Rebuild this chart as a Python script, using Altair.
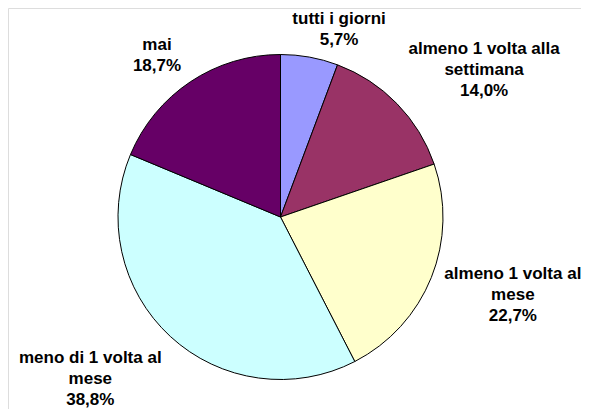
import math
import altair as alt
import pandas as pd

# data
categories = ["tutti i giorni", "almeno 1 volta alla settimana", "almeno 1 volta al mese",
              "meno di 1 volta al mese", "mai"]
label_lines = [["tutti i giorni"], ["almeno 1 volta alla", "settimana"], ["almeno 1 volta al", "mese"],
               ["meno di 1 volta al", "mese"], ["mai"]]
values = [5.7, 14.0, 22.7, 38.8, 18.7]
colors = ["#9999FF", "#993366", "#FFFFCC", "#CCFFFF", "#660066"]

# layout (label placement: radial distance and horizontal shift per label)
CX, CY, R = 272.5, 209.0, 162.5
FONT_SIZE, LINE_H = 17, 21
label_r = [190.5, 210.6, 210, 220, 194.7]
label_dx = [24.6, 52.7, 37.5, -41, -15.5]

total = sum(values)
rows = []
cum = 0.0
for i, (c, lines, v) in enumerate(zip(categories, label_lines, values)):
    mid = (cum + v / 2) / total * 2 * math.pi
    cum += v
    pct = f"{v:.1f}".replace(".", ",") + "%"
    all_lines = lines + [pct]
    lx = CX + label_r[i] * math.sin(mid) + label_dx[i]
    ly = CY - label_r[i] * math.cos(mid) - (len(all_lines) - 1) * LINE_H / 2
    rows.append({"cat": c, "val": v, "idx": i, "label": "\n".join(all_lines), "lx": lx, "ly": ly})
df = pd.DataFrame(rows)

pie = alt.Chart(df).mark_arc(outerRadius=R, stroke="black", strokeWidth=1).encode(
    theta=alt.Theta("val:Q", stack=True),
    order=alt.Order("idx:Q"),
    color=alt.Color("cat:N", scale=alt.Scale(domain=categories, range=colors), legend=None),
    x=alt.value(CX),
    y=alt.value(CY),
)

labels = alt.Chart(df).mark_text(
    font="Liberation Sans", fontWeight="bold", fontSize=FONT_SIZE, lineBreak="\n",
    lineHeight=LINE_H, align="center", baseline="middle", color="black",
).encode(
    x=alt.X("lx:Q", scale=None, axis=None),
    y=alt.Y("ly:Q", scale=None, axis=None),
    text="label:N",
)

chart = alt.layer(pie, labels).properties(
    width=573, height=401, padding=0, autosize=alt.AutoSizeParams(type="none")
).configure_view(stroke=None).configure(background="white")

chart.save("out.html", embed_options={"renderer": "svg", "actions": False})
